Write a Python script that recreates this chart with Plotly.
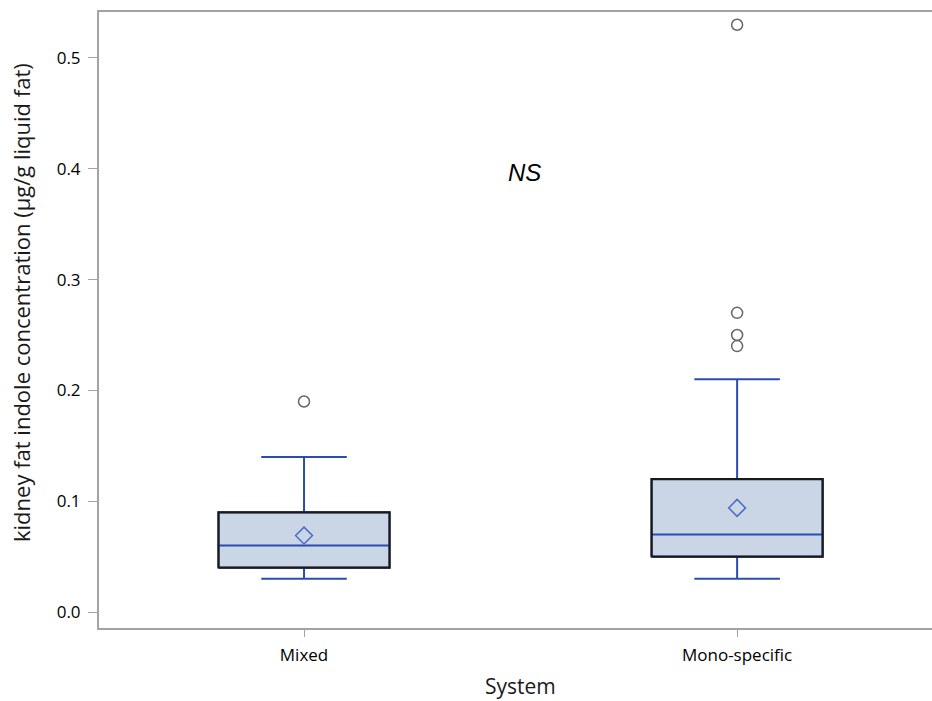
import plotly.graph_objects as go

categories = ["Mixed", "Mono-specific"]
q1 = [0.04, 0.05]
median = [0.06, 0.07]
q3 = [0.09, 0.12]
lower_whisker = [0.03, 0.03]
upper_whisker = [0.14, 0.21]
means = [0.069, 0.094]
outliers = [[0.19], [0.24, 0.25, 0.27, 0.53]]
y_ticks = [0.0, 0.1, 0.2, 0.3, 0.4, 0.5]
annotation_text = "<i>NS</i>"
x_title = "System"
y_title = "kidney fat indole concentration (µg/g liquid fat)"

BLUE = "#2B4DB3"
FILL = "#CAD5E5"
GRAY = "#A3A3A3"
BOXW = 0.395

W, H = 932, 701
ML, MR, MT, MB = 99, 0, 12, 73

fig = go.Figure()
pos = list(range(len(categories)))

for i, c in enumerate(categories):
    fig.add_trace(go.Box(
        x=[pos[i]], q1=[q1[i]], median=[median[i]], q3=[q3[i]],
        lowerfence=[lower_whisker[i]], upperfence=[upper_whisker[i]],
        width=BOXW, whiskerwidth=0.5, fillcolor=FILL,
        line=dict(color=BLUE, width=2), boxpoints=False, showlegend=False,
        hoverinfo="skip"))
    hw = BOXW / 2
    fig.add_trace(go.Scatter(
        x=[pos[i] - hw, pos[i] + hw, pos[i] + hw, pos[i] - hw, pos[i] - hw],
        y=[q1[i], q1[i], q3[i], q3[i], q1[i]],
        mode="lines", line=dict(color="#1a1a1a", width=2.2),
        showlegend=False, hoverinfo="skip"))
    fig.add_trace(go.Scatter(
        x=[pos[i]], y=[means[i]], mode="markers",
        marker=dict(symbol="diamond-open", size=13, color="#4A6CC8",
                    line=dict(width=1.5, color="#4A6CC8")),
        showlegend=False))
    fig.add_trace(go.Scatter(
        x=[pos[i]] * len(outliers[i]), y=outliers[i], mode="markers",
        marker=dict(symbol="circle-open", size=11, color="#666666",
                    line=dict(width=1.5, color="#666666")),
        showlegend=False))

fig.add_annotation(x=0.51, y=0.397, text=annotation_text, showarrow=False,
                   font=dict(family="Liberation Sans", size=24, color="black"),
                   xref="x", yref="y")

pw = W - ML - MR
ph = H - MT - MB
fig.add_annotation(x=(520 - ML) / pw, y=-(686 - (H - MB)) / ph, xref="paper", yref="paper",
                   text=x_title, showarrow=False, xanchor="center", yanchor="middle",
                   font=dict(size=21, family="Open Sans", color="#1a1a1a"))
fig.add_annotation(x=(21 - ML) / pw, y=((H - MB) - 303) / ph, xref="paper", yref="paper",
                   text=y_title, showarrow=False, textangle=-90,
                   xanchor="center", yanchor="middle",
                   font=dict(size=22, family="Open Sans", color="#1a1a1a"))

fig.update_layout(
    width=W, height=H,
    margin=dict(l=ML, r=MR, t=MT, b=MB),
    plot_bgcolor="white", paper_bgcolor="white",
    font=dict(family="Open Sans", color="#1a1a1a"),
)
fig.update_xaxes(
    range=[-0.4734, 1.450], tickvals=pos, ticktext=categories,
    showline=True, linecolor=GRAY, linewidth=2, mirror=True,
    ticks="outside", ticklen=7, tickcolor=GRAY, tickwidth=1,
    showgrid=False, zeroline=False, ticklabelstandoff=4,
    tickfont=dict(size=17, family="Open Sans", color="black"),
)
fig.update_yaxes(
    range=[-0.0144, 0.5415], tickvals=y_ticks,
    ticktext=[f"{v:.1f}" for v in y_ticks],
    showline=True, linecolor=GRAY, linewidth=2,
    ticks="outside", ticklen=9, tickcolor=GRAY, tickwidth=1,
    showgrid=False, zeroline=False, ticklabelstandoff=4,
    tickfont=dict(size=17, family="Open Sans", color="black"),
)

fig.write_html("out.html")
